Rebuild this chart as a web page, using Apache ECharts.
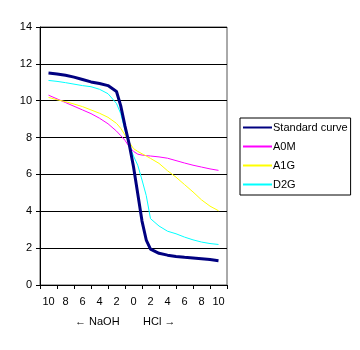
<!DOCTYPE html>
<html>
<head>
<meta charset="utf-8">
<script src="https://cdn.jsdelivr.net/npm/echarts@6/dist/echarts.min.js"></script>
<style>
  html, body { margin: 0; padding: 0; background: #fff; }
  #chart { width: 360px; height: 350px; }
</style>
</head>
<body>
<div id="chart"></div>
<script>
// tick labels on the x axis (NaOH side on the left, HCl side on the right)
const categories = ['10', '8', '6', '4', '2', '0', '2', '4', '6', '8', '10']
const yTicks = [0, 2, 4, 6, 8, 10, 12, 14]

// amount added: negative = NaOH, positive = HCl
const dose = [-10, -9, -8, -7, -6, -5, -4, -3, -2, -1.5, -1, -0.5, 0, 0.5, 1, 1.5, 2, 3, 4, 5, 6, 7, 8, 9, 10]

const standardCurve = [11.5, 11.45, 11.38, 11.28, 11.15, 11.02, 10.93, 10.82, 10.5, 9.72, 8.62, 7.63, 6.42, 4.95, 3.47, 2.44, 1.95, 1.72, 1.62, 1.55, 1.5, 1.47, 1.43, 1.38, 1.32]
const a0m = [10.3, 10.1, 9.9, 9.7, 9.5, 9.3, 9.05, 8.75, 8.35, 8.1, 7.85, 7.5, 7.25, 7.1, 7.05, 7.02, 7.0, 6.95, 6.88, 6.75, 6.62, 6.5, 6.4, 6.3, 6.22]
const a1g = [10.18, 10.05, 9.95, 9.82, 9.68, 9.5, 9.32, 9.1, 8.77, 8.5, 8.14, 7.75, 7.4, 7.25, 7.12, 7.0, 6.87, 6.6, 6.2, 5.85, 5.45, 5.05, 4.62, 4.28, 4.03]
const d2g = [11.1, 11.05, 10.98, 10.9, 10.82, 10.76, 10.62, 10.38, 9.85, 9.3, 8.4, 7.6, 7.0, 6.5, 5.7, 4.85, 3.6, 3.2, 2.92, 2.78, 2.6, 2.45, 2.33, 2.25, 2.2]

const font = 'Liberation Sans'
const pairs = (arr) => dose.map((x, i) => [x, arr[i]])

const mkLine = (name, arr, color, width) => ({
  name: name,
  type: 'line',
  xAxisIndex: 1,
  symbol: 'none',
  data: pairs(arr),
  lineStyle: { color: color, width: width },
  itemStyle: { color: color },
  z: width > 1 ? 3 : 2
})

const myChart = echarts.init(document.getElementById('chart'))
myChart.setOption({
  animation: false,
  textStyle: { fontFamily: font },
  grid: {
    left: 40, top: 27, right: 133, bottom: 65,
    show: true, borderColor: '#555', borderWidth: 1
  },
  legend: {
    orient: 'vertical',
    left: 240,
    top: 118,
    padding: [3, 3, 4, 2],
    itemWidth: 29,
    itemHeight: 13,
    itemGap: 6,
    borderColor: '#000',
    borderWidth: 1,
    backgroundColor: '#fff',
    itemStyle: { opacity: 0 }, // line only, no marker
    textStyle: {
      fontSize: 11,
      lineHeight: 13,
      color: '#000',
      padding: [0, 0, 0, -4] // pull the text closer to the line
    },
    data: ['Standard curve', 'A0M', 'A1G', 'D2G']
  },
  xAxis: [
    {
      type: 'category',
      data: categories,
      boundaryGap: true,
      axisLine: { lineStyle: { color: '#000', width: 1 } },
      axisTick: { show: true, interval: 0, length: 4, lineStyle: { color: '#000' } },
      axisLabel: { interval: 0, color: '#000', fontSize: 11, margin: 11 },
      splitLine: { show: false }
    },
    {
      type: 'value',
      min: -11,
      max: 11,
      show: false
    }
  ],
  yAxis: {
    type: 'value',
    min: yTicks[0],
    max: yTicks[yTicks.length - 1],
    interval: 2,
    axisLine: { show: true, onZero: false, lineStyle: { color: '#000', width: 1 } },
    axisTick: { show: true, length: 4, lineStyle: { color: '#000' } },
    axisLabel: { color: '#000', fontSize: 11, margin: 8 },
    splitLine: { show: true, lineStyle: { color: '#000', width: 1 } }
  },
  graphic: [
    { type: 'text', left: 75, top: 316, style: { text: '← NaOH', fontFamily: font, fontSize: 11, fill: '#000' } },
    { type: 'text', left: 143, top: 316, style: { text: 'HCl →', fontFamily: font, fontSize: 11, fill: '#000' } }
  ],
  series: [
    mkLine('A0M', a0m, '#FF00FF', 1),
    mkLine('A1G', a1g, '#FFFF00', 1),
    mkLine('D2G', d2g, '#00FFFF', 1),
    mkLine('Standard curve', standardCurve, '#000080', 3)
  ]
})
</script>
</body>
</html>
